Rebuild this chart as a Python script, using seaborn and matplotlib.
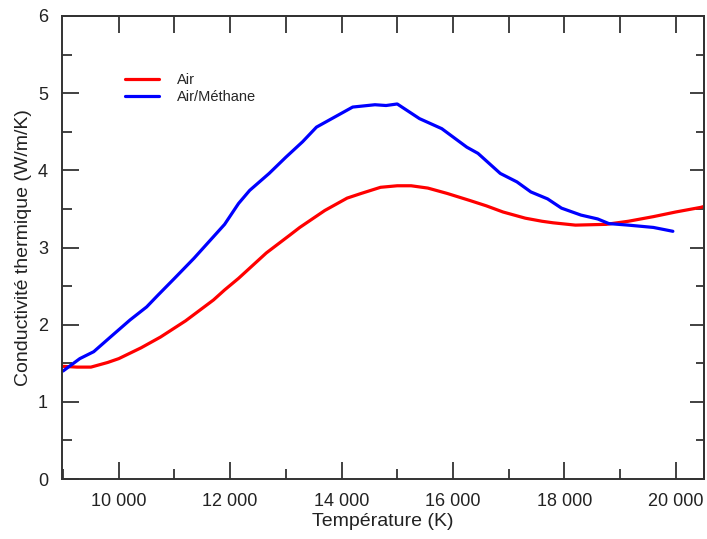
import numpy as np
import pandas as pd
import matplotlib
matplotlib.use("Agg")
import matplotlib.pyplot as plt
import seaborn as sns

# --- data ---
air_T = [9000, 9250, 9500, 9800, 10000, 10400, 10750, 11200, 11700, 11900, 12150, 12650,
         13070, 13250, 13700, 14100, 14350, 14700, 15000, 15250, 15550, 15900, 16300, 16600,
         16900, 17300, 17600, 17800, 18200, 18750, 19150, 19600, 20000, 20450, 20500]
air_k = [1.46, 1.45, 1.45, 1.51, 1.56, 1.70, 1.84, 2.05, 2.32, 2.45, 2.60, 2.93,
         3.16, 3.26, 3.48, 3.64, 3.70, 3.78, 3.80, 3.80, 3.77, 3.70, 3.61, 3.54,
         3.46, 3.38, 3.34, 3.32, 3.29, 3.30, 3.34, 3.40, 3.46, 3.52, 3.53]

meth_T = [9000, 9300, 9550, 9850, 10200, 10500, 10700, 11000, 11350, 11700, 11900,
          12150, 12350, 12700, 13000, 13300, 13550, 13850, 14200, 14600, 14800, 15000,
          15400, 15800, 16250, 16450, 16850, 17150, 17400, 17700, 17950, 18300, 18600,
          18800, 19150, 19600, 19950]
meth_k = [1.40, 1.56, 1.65, 1.84, 2.06, 2.23, 2.38, 2.60, 2.86, 3.14, 3.30,
          3.57, 3.74, 3.96, 4.17, 4.37, 4.56, 4.68, 4.82, 4.85, 4.84, 4.86,
          4.67, 4.54, 4.30, 4.22, 3.96, 3.85, 3.72, 3.63, 3.51, 3.42, 3.37,
          3.31, 3.29, 3.26, 3.21]

series_names = ["Air", "Air/Méthane"]
series_colors = ["#ff0000", "#0000ff"]
x_ticks = [10000, 12000, 14000, 16000, 18000, 20000]
x_tick_labels = ["10 000", "12 000", "14 000", "16 000", "18 000", "20 000"]
y_ticks = [0, 1, 2, 3, 4, 5, 6]

df = pd.concat([
    pd.DataFrame({"T": air_T, "k": air_k, "s": series_names[0]}),
    pd.DataFrame({"T": meth_T, "k": meth_k, "s": series_names[1]}),
])

sns.set_style("ticks")
plt.rcParams["font.family"] = ["Liberation Sans", "DejaVu Sans"]

fig = plt.figure(figsize=(7.07, 5.39), dpi=100)
ax = fig.add_axes([62/707, 1-479/539, (703.5-62)/707, (479-16)/539])

sns.lineplot(data=df, x="T", y="k", hue="s", palette=series_colors,
             hue_order=series_names, sort=False, estimator=None,
             linewidth=2.3, ax=ax, legend=True)

ax.set_xlim(8980, 20500)
ax.set_ylim(0, 6)
ax.set_xticks(x_ticks)
ax.set_xticklabels(x_tick_labels)
ax.set_yticks(y_ticks)
ax.set_xticks(np.arange(9000, 20501, 1000), minor=True)
ax.set_yticks(np.arange(0, 6.01, 0.5), minor=True)

spine_c = "#333333"
for s in ax.spines.values():
    s.set_visible(True)
    s.set_color(spine_c)
    s.set_linewidth(1.4)

ax.tick_params(axis="both", which="major", direction="in", length=12, width=1.3,
               color=spine_c, labelsize=13, pad=10, labelcolor="#222222")
ax.tick_params(axis="both", which="minor", direction="in", length=7, width=1.3,
               color=spine_c)
ax.tick_params(top=False, right=False, which="both")

top = ax.secondary_xaxis("top")
top.set_xticks(np.arange(10000, 20501, 1000))
top.tick_params(direction="in", length=12, width=1.3, color=spine_c, labeltop=False)
top.spines["top"].set_color(spine_c)
top.spines["top"].set_linewidth(1.4)

right = ax.secondary_yaxis("right")
right.set_yticks(y_ticks)
right.set_yticks(np.arange(0, 6.01, 0.5), minor=True)
right.tick_params(which="major", direction="in", length=10, width=1.3, color=spine_c, labelright=False)
right.tick_params(which="minor", direction="in", length=6, width=1.3, color=spine_c, labelright=False)
right.spines["right"].set_color(spine_c)
right.spines["right"].set_linewidth(1.4)

ax.set_xlabel("Température (K)", fontsize=14, color="#222222", labelpad=2)
ax.set_ylabel("Conductivité thermique (W/m/K)", fontsize=14, color="#222222", labelpad=4)

leg = ax.legend(loc="upper left", bbox_to_anchor=(125/707, 1-73/539),
                bbox_transform=fig.transFigure, frameon=False, fontsize=10.5,
                handlelength=2.3, handletextpad=1.25, labelspacing=0.22,
                borderpad=0, borderaxespad=0)
for line in leg.get_lines():
    line.set_linewidth(2.3)

fig.savefig("out.png", dpi=100)
